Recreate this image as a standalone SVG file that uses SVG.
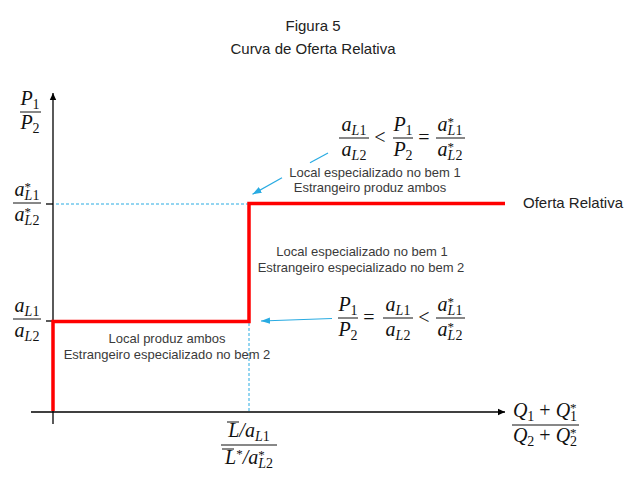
<svg xmlns="http://www.w3.org/2000/svg" width="640" height="477" viewBox="0 0 640 477">
<style>
.t{font-family:"Liberation Sans",Arial,sans-serif;fill:#222;text-anchor:middle}
.ann{font-family:"Liberation Sans",Arial,sans-serif;font-size:13px;fill:#3a3a3a;text-anchor:middle}
.m{font-family:"Liberation Serif","Times New Roman",serif;font-style:italic;font-size:20px;fill:#111;text-anchor:middle}
.s{font-size:14px}
.st{font-size:13px;font-style:normal}
.u{font-style:normal}
.bar{stroke:#111;stroke-width:1}
.ax{stroke:#000;stroke-width:1.3;fill:none}
.red{stroke:#ff0000;stroke-width:3.5;fill:none}
.dash{stroke:#29abe2;stroke-width:1;stroke-dasharray:3 2;fill:none}
.blue{stroke:#29abe2;stroke-width:1.2;fill:none}
</style>
<defs>
<marker id="ah" markerWidth="8" markerHeight="8" refX="7" refY="4" orient="auto" markerUnits="userSpaceOnUse">
<path d="M0,0.8 L7,4 L0,7.2 Z" fill="#000"/>
</marker>
<marker id="bh" markerWidth="10" markerHeight="8" refX="9" refY="4" orient="auto" markerUnits="userSpaceOnUse">
<path d="M0,0.8 L9,4 L0,7.2 Z" fill="#29abe2"/>
</marker>
</defs>
<rect width="640" height="477" fill="#fff"/>

<g id="title">
<text class="t" x="313" y="31" font-size="15">Figura 5</text>
<text class="t" x="313" y="54" font-size="15">Curva de Oferta Relativa</text>
</g>

<g id="axes">
<line class="ax" x1="31" y1="412" x2="505" y2="412" marker-end="url(#ah)"/>
<line class="ax" x1="53" y1="424" x2="53" y2="93" marker-end="url(#ah)"/>
<line class="ax" x1="46" y1="204" x2="53" y2="204"/>
<line class="ax" x1="46" y1="321" x2="53" y2="321"/>
</g>

<g id="guides">
<line class="dash" x1="56" y1="204" x2="249" y2="204"/>
<line class="dash" x1="249" y1="323" x2="249" y2="411"/>
</g>

<g id="supply-curve">
<polyline class="red" points="53,411 53,321.5 249,321.5 249,203.5 505,203.5"/>
</g>

<g id="connectors">
<line class="blue" x1="328" y1="153" x2="310" y2="162.7"/>
<line class="blue" x1="282" y1="177.8" x2="252.5" y2="194.3" marker-end="url(#bh)"/>
<line class="blue" x1="332" y1="318.5" x2="261" y2="321" marker-end="url(#bh)"/>
</g>

<g id="label-curve">
<text class="t" x="523" y="208" font-size="15" style="text-anchor:start">Oferta Relativa</text>
</g>

<g id="region-top">
<text class="ann" x="375" y="177">Local especializado no bem 1</text>
<text class="ann" x="370" y="192">Estrangeiro produz ambos</text>
</g>
<g id="region-middle">
<text class="ann" x="362" y="256">Local especializado no bem 1</text>
<text class="ann" x="361" y="272">Estrangeiro especializado no bem 2</text>
</g>
<g id="region-bottom">
<text class="ann" x="167" y="343">Local produz ambos</text>
<text class="ann" x="167" y="359">Estrangeiro especializado no bem 2</text>
</g>

<g id="y-label">
<text class="m" x="30" y="105">P<tspan class="s u" dy="4">1</tspan></text>
<line class="bar" x1="20" y1="112" x2="41" y2="112"/>
<text class="m" x="30" y="129">P<tspan class="s u" dy="4">2</tspan></text>
</g>

<g id="y-tick-star">
<text class="m" x="27" y="196">a<tspan class="st" dy="-5">*</tspan><tspan class="s" dx="-6.5" dy="9">L</tspan><tspan class="s u">1</tspan></text>
<line class="bar" x1="13" y1="203" x2="41" y2="203"/>
<text class="m" x="27" y="221">a<tspan class="st" dy="-5">*</tspan><tspan class="s" dx="-6.5" dy="9">L</tspan><tspan class="s u">2</tspan></text>
</g>

<g id="y-tick-local">
<text class="m" x="27" y="312">a<tspan class="s" dy="4">L</tspan><tspan class="s u">1</tspan></text>
<line class="bar" x1="13" y1="319" x2="41" y2="319"/>
<text class="m" x="27" y="337">a<tspan class="s" dy="4">L</tspan><tspan class="s u">2</tspan></text>
</g>

<g id="formula-top">
<text class="m" x="354" y="131">a<tspan class="s" dy="4">L</tspan><tspan class="s u">1</tspan></text>
<line class="bar" x1="339" y1="138" x2="369" y2="138"/>
<text class="m" x="354" y="156">a<tspan class="s" dy="4">L</tspan><tspan class="s u">2</tspan></text>
<text class="m u" x="380" y="144">&lt;</text>
<text class="m" x="403" y="131">P<tspan class="s u" dy="4">1</tspan></text>
<line class="bar" x1="393" y1="138" x2="413" y2="138"/>
<text class="m" x="403" y="156">P<tspan class="s u" dy="4">2</tspan></text>
<text class="m u" x="424" y="144">=</text>
<text class="m" x="450" y="131">a<tspan class="st" dy="-5">*</tspan><tspan class="s" dx="-6.5" dy="9">L</tspan><tspan class="s u">1</tspan></text>
<line class="bar" x1="436" y1="138" x2="465" y2="138"/>
<text class="m" x="450" y="156">a<tspan class="st" dy="-5">*</tspan><tspan class="s" dx="-6.5" dy="9">L</tspan><tspan class="s u">2</tspan></text>
</g>

<g id="formula-bottom">
<text class="m" x="348" y="311">P<tspan class="s u" dy="4">1</tspan></text>
<line class="bar" x1="338" y1="318" x2="358" y2="318"/>
<text class="m" x="348" y="336">P<tspan class="s u" dy="4">2</tspan></text>
<text class="m u" x="369" y="324">=</text>
<text class="m" x="398" y="311">a<tspan class="s" dy="4">L</tspan><tspan class="s u">1</tspan></text>
<line class="bar" x1="383" y1="318" x2="413" y2="318"/>
<text class="m" x="398" y="336">a<tspan class="s" dy="4">L</tspan><tspan class="s u">2</tspan></text>
<text class="m u" x="424" y="324">&lt;</text>
<text class="m" x="450" y="311">a<tspan class="st" dy="-5">*</tspan><tspan class="s" dx="-6.5" dy="9">L</tspan><tspan class="s u">1</tspan></text>
<line class="bar" x1="436" y1="318" x2="465" y2="318"/>
<text class="m" x="450" y="336">a<tspan class="st" dy="-5">*</tspan><tspan class="s" dx="-6.5" dy="9">L</tspan><tspan class="s u">2</tspan></text>
</g>

<g id="x-tick">
<text class="m" x="249" y="437">L/a<tspan class="s" dy="4">L</tspan><tspan class="s u">1</tspan></text>
<line class="bar" x1="227" y1="422" x2="239" y2="422"/>
<line class="bar" x1="221" y1="445" x2="277" y2="445"/>
<text class="m" x="249" y="464">L<tspan class="st" dy="-6">*</tspan><tspan dy="6">/a</tspan><tspan class="st" dy="-5">*</tspan><tspan class="s" dx="-6.5" dy="9">L</tspan><tspan class="s u">2</tspan></text>
<line class="bar" x1="222" y1="449" x2="234" y2="449"/>
</g>

<g id="x-label">
<text class="m" x="545" y="417">Q<tspan class="s u" dy="4">1</tspan><tspan class="u" dy="-4"> + </tspan>Q<tspan class="st" dy="-5">*</tspan><tspan class="s u" dx="-6.5" dy="9">1</tspan></text>
<line class="bar" x1="512" y1="425" x2="579" y2="425"/>
<text class="m" x="545" y="442">Q<tspan class="s u" dy="4">2</tspan><tspan class="u" dy="-4"> + </tspan>Q<tspan class="st" dy="-5">*</tspan><tspan class="s u" dx="-6.5" dy="9">2</tspan></text>
</g>
</svg>
